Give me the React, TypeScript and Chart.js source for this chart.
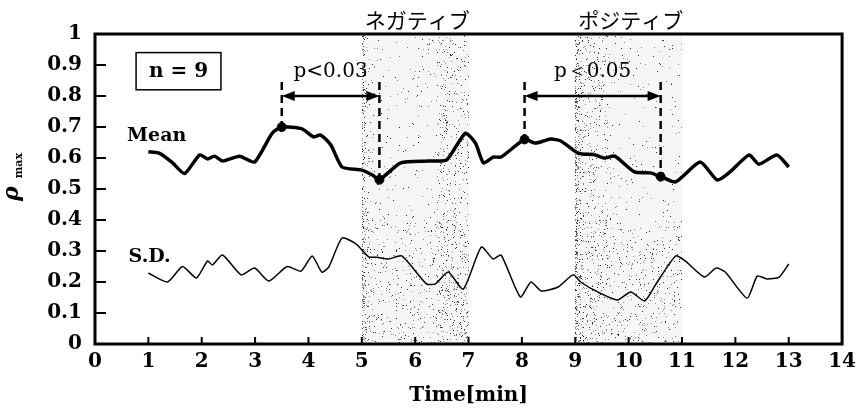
import React, { useEffect, useRef } from 'react';
import { Chart, registerables } from 'chart.js';

Chart.register(...registerables);

const SERIF = '"DejaVu Serif", "Liberation Serif", serif';
const CJK = '"Noto Sans CJK JP", sans-serif';

// Mean of rho_max over time (minutes)
const meanTime = [1.0, 1.21, 1.45, 1.68, 1.96, 2.11, 2.24, 2.39, 2.71, 2.99, 3.32, 3.5, 3.88, 4.1, 4.23, 4.42, 4.63, 5.0, 5.2, 5.33, 5.73, 6.25, 6.59, 6.94, 7.13, 7.28, 7.46, 7.61, 8.05, 8.25, 8.54, 8.73, 9.05, 9.37, 9.55, 9.74, 10.11, 10.41, 10.6, 10.88, 11.34, 11.66, 11.9, 12.26, 12.44, 12.78, 13.0];
const meanValue = [0.62, 0.615, 0.585, 0.55, 0.61, 0.597, 0.606, 0.59, 0.606, 0.587, 0.68, 0.70, 0.694, 0.668, 0.674, 0.642, 0.571, 0.561, 0.545, 0.53, 0.584, 0.59, 0.594, 0.68, 0.648, 0.584, 0.603, 0.603, 0.66, 0.648, 0.661, 0.655, 0.616, 0.61, 0.6, 0.606, 0.555, 0.552, 0.54, 0.523, 0.587, 0.529, 0.555, 0.61, 0.58, 0.61, 0.571];

// Standard deviation of rho_max over time
const sdTime = [1.0, 1.36, 1.64, 1.9, 2.11, 2.2, 2.39, 2.74, 2.99, 3.26, 3.6, 3.86, 4.07, 4.25, 4.38, 4.63, 4.89, 5.13, 5.28, 5.5, 5.75, 6.21, 6.38, 6.62, 6.9, 7.24, 7.46, 7.61, 7.97, 8.17, 8.36, 8.68, 8.96, 9.1, 9.42, 9.79, 10.04, 10.3, 10.5, 10.88, 11.06, 11.42, 11.64, 11.81, 12.22, 12.41, 12.59, 12.82, 13.0];
const sdValue = [0.229, 0.2, 0.25, 0.213, 0.268, 0.255, 0.287, 0.223, 0.245, 0.203, 0.25, 0.235, 0.284, 0.232, 0.248, 0.342, 0.323, 0.281, 0.28, 0.274, 0.284, 0.194, 0.194, 0.232, 0.177, 0.313, 0.274, 0.287, 0.152, 0.2, 0.171, 0.184, 0.223, 0.2, 0.168, 0.142, 0.168, 0.139, 0.19, 0.284, 0.268, 0.216, 0.245, 0.232, 0.148, 0.219, 0.21, 0.216, 0.258];

// Points compared in the significance tests (on the mean curve)
const markerTime = [3.5, 5.33, 8.05, 10.6];
const markerValue = [0.7, 0.53, 0.66, 0.54];
const testLabels = ['p<0.03', 'p＜0.05'];
const arrowLevel = 0.8;
const guideTop = 0.845;
const testLabelLevel = 0.877;

// Stimulus phases
const phaseStart = [5, 9];
const phaseEnd = [7, 11];
const phaseLabels = ['ネガティブ', 'ポジティブ'];

// Axes
const xTicks = [0, 1, 2, 3, 4, 5, 6, 7, 8, 9, 10, 11, 12, 13, 14];
const xTickLabels = ['0', '1', '2', '3', '4', '5', '6', '7', '8', '9', '10', '11', '12', '13', '14'];
const yTicks = [0, 0.1, 0.2, 0.3, 0.4, 0.5, 0.6, 0.7, 0.8, 0.9, 1];
const yTickLabels = ['0', '0.1', '0.2', '0.3', '0.4', '0.5', '0.6', '0.7', '0.8', '0.9', '1'];
const xTitle = 'Time[min]';
const sampleLabel = 'n = 9';

function hash2(a: number, b: number): number {
  let h = Math.imul(a, 374761393) + Math.imul(b, 668265263);
  h = Math.imul(h ^ (h >>> 13), 1274126177);
  h = h ^ (h >>> 16);
  return (h >>> 0) / 4294967296;
}

// Dotted screen tone behind the stimulus phases
const stipplePlugin = {
  id: 'stipple',
  beforeDatasetsDraw(chart: any) {
    const { ctx, chartArea, scales } = chart;
    const x = scales.x;
    ctx.save();
    phaseStart.forEach((s, i) => {
      const xs = Math.round(x.getPixelForValue(s));
      const xe = Math.round(x.getPixelForValue(phaseEnd[i]));
      ctx.fillStyle = 'rgba(0,0,0,0.035)';
      ctx.fillRect(xs, chartArea.top, xe - xs, chartArea.bottom - chartArea.top);
      for (let px = xs; px < xe; px += 1) {
        const t = (px - xs) / (xe - xs);
        for (let py = Math.round(chartArea.top); py < chartArea.bottom; py += 1) {
          const v = (py - chartArea.top) / (chartArea.bottom - chartArea.top);
          let d = 0.025 + 0.5 * Math.exp(-t / 0.03);
          if (i === 0) d += t > 0.7 ? 0.1 : 0;
          else d += t < 0.3 ? 0.07 : 0;
          d += v > 0.6 ? 0.05 : 0;
          const r = hash2(px, py + i * 977);
          if (r < d * 0.5) {
            ctx.fillStyle = r < d * 0.2 ? '#333' : '#8a8a8a';
            ctx.fillRect(px, py, 1, 1);
          }
        }
      }
    });
    ctx.restore();
  },
};

const decorPlugin = {
  id: 'decor',
  afterDraw(chart: any) {
    const { ctx, chartArea, scales } = chart;
    const x = scales.x;
    const y = scales.y;
    const { left, right, top, bottom } = chartArea;
    ctx.save();
    ctx.strokeStyle = '#000';
    ctx.fillStyle = '#000';

    // frame
    ctx.lineWidth = 3;
    ctx.strokeRect(left, top, right - left, bottom - top);

    // inward tick marks
    ctx.lineWidth = 2;
    yTicks.forEach((v) => {
      if (v <= 0 || v >= 1) return;
      const py = y.getPixelForValue(v);
      ctx.beginPath();
      ctx.moveTo(left, py);
      ctx.lineTo(left + 11, py);
      ctx.stroke();
    });
    xTicks.forEach((v) => {
      if (v <= 0 || v >= 14) return;
      const px = x.getPixelForValue(v);
      ctx.beginPath();
      ctx.moveTo(px, bottom);
      ctx.lineTo(px, bottom - 7);
      ctx.stroke();
    });

    // significance annotations
    for (let i = 0; i < testLabels.length; i++) {
      const a = 2 * i;
      const b = 2 * i + 1;
      const xa = x.getPixelForValue(markerTime[a]);
      const xb = x.getPixelForValue(markerTime[b]);
      const gy = y.getPixelForValue(guideTop);
      ctx.lineWidth = 2.5;
      ctx.setLineDash([8, 5]);
      ctx.beginPath();
      ctx.moveTo(xa, gy);
      ctx.lineTo(xa, y.getPixelForValue(markerValue[a]));
      ctx.moveTo(xb, gy);
      ctx.lineTo(xb, y.getPixelForValue(markerValue[b]));
      ctx.stroke();
      ctx.setLineDash([]);

      const ay = y.getPixelForValue(arrowLevel);
      ctx.lineWidth = 2.5;
      ctx.beginPath();
      ctx.moveTo(xa + 10, ay);
      ctx.lineTo(xb - 10, ay);
      ctx.stroke();
      ctx.beginPath();
      ctx.moveTo(xa, ay);
      ctx.lineTo(xa + 13, ay - 5);
      ctx.lineTo(xa + 13, ay + 5);
      ctx.closePath();
      ctx.fill();
      ctx.beginPath();
      ctx.moveTo(xb, ay);
      ctx.lineTo(xb - 13, ay - 5);
      ctx.lineTo(xb - 13, ay + 5);
      ctx.closePath();
      ctx.fill();

      ctx.font = `20px ${SERIF}`;
      ctx.textAlign = 'center';
      ctx.textBaseline = 'middle';
      ctx.fillText(testLabels[i], (xa + xb) / 2, y.getPixelForValue(testLabelLevel));
    }

    // phase titles
    ctx.font = `21px ${CJK}`;
    ctx.textAlign = 'center';
    ctx.textBaseline = 'middle';
    phaseStart.forEach((s, i) => {
      const cx = (x.getPixelForValue(s) + x.getPixelForValue(phaseEnd[i])) / 2;
      ctx.fillText(phaseLabels[i], cx + 2, top - 14);
    });

    // series labels
    ctx.font = `bold 19px ${SERIF}`;
    ctx.textAlign = 'left';
    ctx.fillText('Mean', x.getPixelForValue(0.6), y.getPixelForValue(0.67));
    ctx.fillText('S.D.', x.getPixelForValue(0.63), y.getPixelForValue(0.28));

    // sample size box
    const bx0 = x.getPixelForValue(0.77);
    const bx1 = x.getPixelForValue(2.36);
    const by0 = y.getPixelForValue(0.94);
    const by1 = y.getPixelForValue(0.82);
    ctx.lineWidth = 1.5;
    ctx.strokeRect(bx0, by0, bx1 - bx0, by1 - by0);
    ctx.font = `bold 20px ${SERIF}`;
    ctx.textAlign = 'center';
    ctx.fillText(sampleLabel, (bx0 + bx1) / 2, (by0 + by1) / 2 + 1);

    // x axis title
    ctx.font = `bold 20px ${SERIF}`;
    ctx.textAlign = 'center';
    ctx.textBaseline = 'middle';
    ctx.fillText(xTitle, (left + right) / 2, bottom + 52);

    // y axis title: rho with "max" subscript
    const cy = (top + bottom) / 2;
    ctx.translate(18, cy + 12);
    ctx.rotate(-Math.PI / 2);
    ctx.textAlign = 'left';
    ctx.textBaseline = 'alphabetic';
    ctx.font = `italic bold 22px ${SERIF}`;
    ctx.fillText('ρ', 0, 0);
    const rw = ctx.measureText('ρ').width;
    ctx.font = `bold 11px ${SERIF}`;
    ctx.fillText('max', rw + 8, 4);
    ctx.restore();
  },
};

export default function App() {
  const canvasRef = useRef<HTMLCanvasElement | null>(null);

  useEffect(() => {
    const canvas = canvasRef.current;
    if (!canvas) return;
    const tickFont = { family: SERIF, size: 20, weight: 'bold' as const };
    const chart = new Chart(canvas, {
      type: 'line',
      data: {
        datasets: [
          {
            label: 'Mean',
            data: meanTime.map((t, i) => ({ x: t, y: meanValue[i] })),
            borderColor: '#000',
            borderWidth: 3.5,
            pointRadius: 0,
            tension: 0.2,
            fill: false,
          },
          {
            label: 'S.D.',
            data: sdTime.map((t, i) => ({ x: t, y: sdValue[i] })),
            borderColor: '#000',
            borderWidth: 1.5,
            pointRadius: 0,
            tension: 0.2,
            fill: false,
          },
          {
            type: 'scatter',
            label: 'tested',
            data: markerTime.map((t, i) => ({ x: t, y: markerValue[i] })),
            backgroundColor: '#000',
            borderColor: '#000',
            pointRadius: 4.5,
            showLine: false,
          } as any,
        ],
      },
      options: {
        animation: false,
        responsive: false,
        maintainAspectRatio: false,
        layout: { padding: { top: 34, right: 16, left: 0, bottom: 0 } },
        plugins: { legend: { display: false }, tooltip: { enabled: false } },
        scales: {
          x: {
            type: 'linear',
            min: 0,
            max: 14,
            afterBuildTicks: (s: any) => {
              s.ticks = xTicks.map((v) => ({ value: v }));
            },
            afterFit: (s: any) => {
              s.height = 66;
            },
            grid: { display: false, drawTicks: false },
            border: { display: false },
            ticks: {
              padding: 6,
              color: '#000',
              font: tickFont,
              autoSkip: false,
              maxRotation: 0,
              callback: (_v: any, i: number) => xTickLabels[i],
            },
          },
          y: {
            type: 'linear',
            min: 0,
            max: 1,
            afterBuildTicks: (s: any) => {
              s.ticks = yTicks.map((v) => ({ value: v }));
            },
            afterFit: (s: any) => {
              s.width = 95;
            },
            grid: { display: false, drawTicks: false },
            border: { display: false },
            ticks: {
              padding: 13,
              color: '#000',
              font: tickFont,
              autoSkip: false,
              callback: (_v: any, i: number) => yTickLabels[i],
            },
          },
        },
      },
      plugins: [stipplePlugin, decorPlugin],
    });
    return () => chart.destroy();
  }, []);

  return (
    <div style={{ position: 'absolute', left: 0, top: 0, width: 862, height: 410, background: '#fff' }}>
      <canvas ref={canvasRef} width={862} height={410} style={{ display: 'block' }} />
    </div>
  );
}
